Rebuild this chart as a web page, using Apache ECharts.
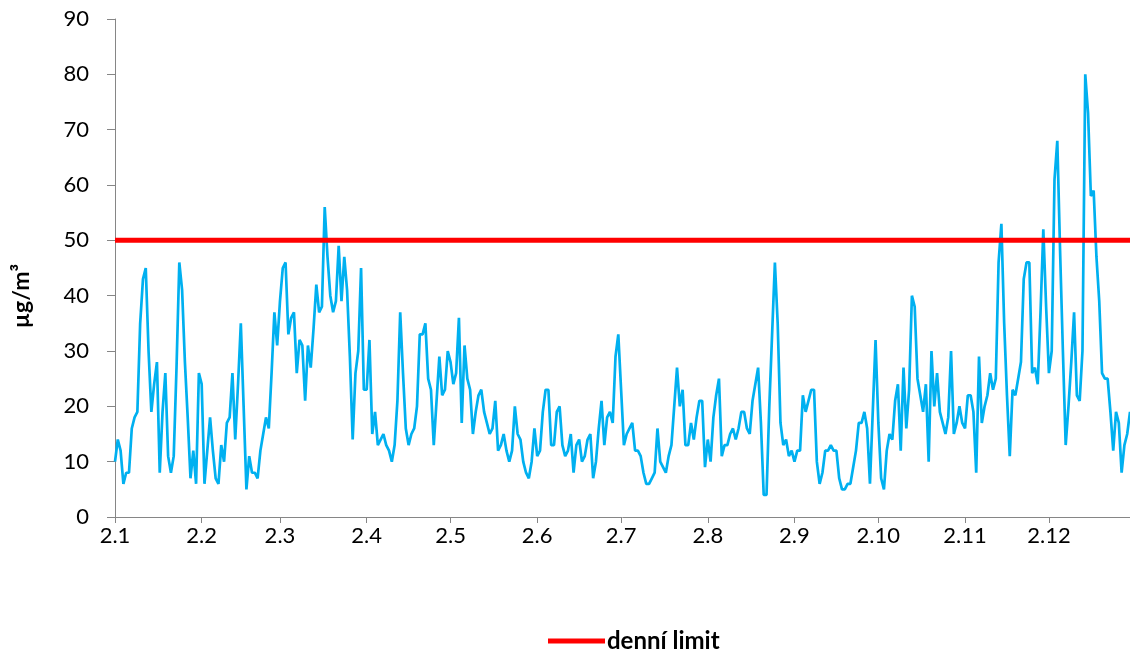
<!DOCTYPE html>
<html>
<head>
<meta charset="utf-8">
<script src="https://cdn.jsdelivr.net/npm/echarts@6/dist/echarts.min.js"></script>
<style>
  html, body { margin: 0; padding: 0; background: #ffffff; }
  #chart { width: 1130px; height: 650px; }
</style>
</head>
<body>
<div id="chart"></div>
<script>
// Daily PM10 concentrations (µg/m³), 2 January to 31 December
const jan = [10,14,12,6,8,8,16,18,19,35,43,45,30,19,24,28,8,19,26,11,8,11,27,46,41,28,18,7,12,6];
const feb = [26,24,6,12,18,12,7,6,13,10,17,18,26,14,24,35,20,5,11,8,8,7,12,15,18,16,26,37];
const mar = [31,39,45,46,33,36,37,26,32,31,21,31,27,34,42,37,38,56,47,40,37,39,49,39,47,41,29,14,26,30,45];
const apr = [23,23,32,15,19,13,14,15,13,12,10,13,21,37,26,16,13,15,16,20,33,33,35,25,23,13,21,29,22,23];
const may = [30,28,24,26,36,17,31,25,23,15,19,22,23,19,17,15,16,21,12,13,15,12,10,12,20,15,14,10,8,7,10];
const jun = [16,11,12,19,23,23,13,13,19,20,13,11,12,15,8,13,14,10,11,14,15,7,10,16,21,13,18,19,17,29];
const jul = [33,23,13,15,16,17,12,12,11,8,6,6,7,8,16,10,9,8,11,13,20,27,20,23,13,13,17,14,18,21,21];
const aug = [9,14,10,18,22,25,11,13,13,15,16,14,16,19,19,16,15,21,24,27,17,4,4,20,33,46,35,17,13,14,11];
const sep = [12,10,12,12,22,19,21,23,23,10,6,8,12,12,13,12,12,7,5,5,6,6,9,12,17,17,19,16,6,19];
const oct = [32,17,7,5,12,15,14,21,24,12,27,16,23,40,38,25,22,19,24,10,30,20,26,19,17,15,18,30,15,17,20];
const nov = [17,16,22,22,19,8,29,17,20,22,26,23,25,46,53,35,22,11,23,22,25,28,43,46,46,26,27,24,37,52];
const dec = [38,26,30,61,68,48,30,13,20,28,37,22,21,30,80,73,58,59,47,39,26,25,25,19,12,19,17,8,13,15,19];

// Daily limit value
const limitValue = 50;
const limitName = 'denní limit';

// Calendar: month lengths, first day of the series, label day
const monthLengths = [31,28,31,30,31,30,31,31,30,31,30,31];
const firstDay = 2;
const labelDay = 2;

// Y axis scale
const yMin = 0, yMax = 90, yStep = 10;
const yName = 'µg/m³';

const concentrations = [].concat(jan, feb, mar, apr, may, jun, jul, aug, sep, oct, nov, dec);

// Category labels "d.m"
const days = [];
monthLengths.forEach(function (len, m) {
  for (let d = (m === 0 ? firstDay : 1); d <= len; d++) days.push(d + '.' + (m + 1));
});

const limitLine = days.map(function () { return limitValue; });
const isLabelDay = function (idx, value) { return value.split('.')[0] === String(labelDay); };

const FONT = 'Lato, "Open Sans", sans-serif';
const AXIS_COLOR = '#868686';

const chart = echarts.init(document.getElementById('chart'), null, { renderer: 'canvas' });
chart.setOption({
  animation: false,
  backgroundColor: '#ffffff',
  textStyle: { fontFamily: FONT },
  grid: { left: 115, right: -1, top: 19, bottom: 133, containLabel: false },
  legend: {
    data: [limitName],
    left: 543,
    top: 624,
    icon: 'rect',
    itemWidth: 57,
    itemHeight: 5,
    itemGap: 10,
    textStyle: { fontFamily: FONT, fontSize: 24, fontWeight: 'bold', color: '#000000', padding: [0, 0, 0, -3] }
  },
  xAxis: {
    type: 'category',
    data: days,
    boundaryGap: false,
    axisLine: { lineStyle: { color: AXIS_COLOR, width: 1 } },
    axisTick: { show: true, interval: isLabelDay, length: 6, lineStyle: { color: AXIS_COLOR } },
    axisLabel: { interval: isLabelDay, margin: 8, fontSize: 22, color: '#000000', fontFamily: FONT },
    splitLine: { show: false }
  },
  yAxis: {
    type: 'value',
    min: yMin,
    max: yMax,
    interval: yStep,
    name: yName,
    nameLocation: 'middle',
    nameRotate: 90,
    nameGap: 82,
    nameTextStyle: { fontSize: 23, fontWeight: 'bold', color: '#000000', fontFamily: FONT, padding: [0, 56, 0, 0] },
    axisLine: { show: true, lineStyle: { color: AXIS_COLOR, width: 1 } },
    axisTick: { show: true, length: 8, lineStyle: { color: AXIS_COLOR } },
    axisLabel: { margin: 26, fontSize: 22, color: '#000000', fontFamily: FONT },
    splitLine: { show: false }
  },
  series: [
    {
      name: 'PM10',
      type: 'line',
      data: concentrations,
      symbol: 'none',
      lineStyle: { color: '#00B0F0', width: 2.7 },
      itemStyle: { color: '#00B0F0' },
      z: 2
    },
    {
      name: limitName,
      type: 'line',
      data: limitLine,
      symbol: 'none',
      lineStyle: { color: '#FF0000', width: 5 },
      itemStyle: { color: '#FF0000' },
      z: 3
    }
  ]
});
</script>
</body>
</html>
